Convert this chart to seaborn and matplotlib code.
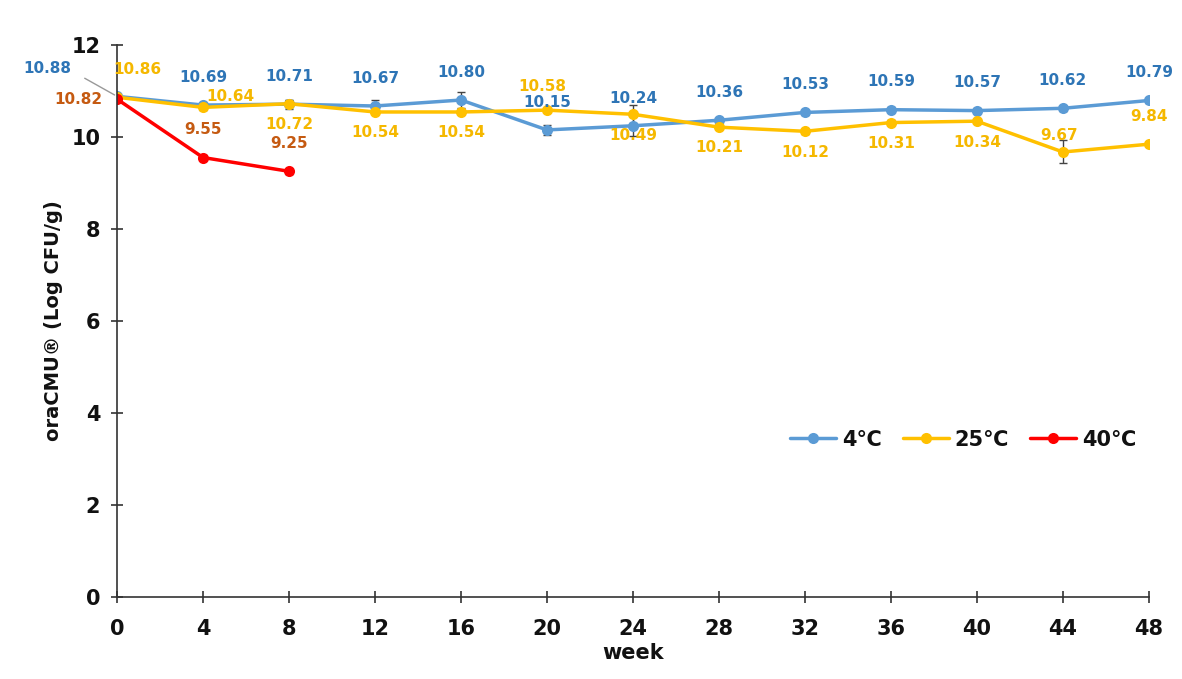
import numpy as np
import pandas as pd
import seaborn as sns
from matplotlib import pyplot as plt

weeks = [0, 4, 8, 12, 16, 20, 24, 28, 32, 36, 40, 44, 48]
cfu_4c = [10.88, 10.69, 10.71, 10.67, 10.80, 10.15, 10.24, 10.36, 10.53, 10.59, 10.57, 10.62, 10.79]
cfu_25c = [10.86, 10.64, 10.72, 10.54, 10.54, 10.58, 10.49, 10.21, 10.12, 10.31, 10.34, 9.67, 9.84]
weeks_40c = [0, 4, 8]
cfu_40c = [10.82, 9.55, 9.25]
err_4c = [0.05, 0.05, 0.10, 0.12, 0.18, 0.10, 0.22, 0.05, 0.05, 0.05, 0.05, 0.05, 0.05]
err_25c = [0.05, 0.05, 0.08, 0.05, 0.05, 0.05, 0.20, 0.05, 0.05, 0.05, 0.05, 0.25, 0.05]
err_40c = [0.05, 0.05, 0.05]

df = pd.concat([
    pd.DataFrame({'week': weeks, 'value': cfu_4c, 'temp': '4℃'}),
    pd.DataFrame({'week': weeks, 'value': cfu_25c, 'temp': '25℃'}),
    pd.DataFrame({'week': weeks_40c, 'value': cfu_40c, 'temp': '40℃'}),
])

colors = {'4℃': '#5B9BD5', '25℃': '#FFC000', '40℃': '#FF0000'}
text_colors = {'4℃': '#2E75B6', '25℃': '#F5B800', '40℃': '#C55A11'}

sns.set_style('white')
plt.rcParams['font.family'] = ['DejaVu Sans']

fig = plt.figure(figsize=(11.82, 6.79), dpi=100)
ax = fig.add_axes([0.099, 0.121, 0.873, 0.813])

# error bars first so the lines sit on top
for x, y, e in [(weeks, cfu_4c, err_4c), (weeks, cfu_25c, err_25c), (weeks_40c, cfu_40c, err_40c)]:
    ax.errorbar(x, y, yerr=e, fmt='none', ecolor='#444444', elinewidth=1, capsize=3, zorder=1)

sns.lineplot(data=df, x='week', y='value', hue='temp', palette=colors,
             marker='o', markersize=8, markeredgewidth=0, linewidth=2.5,
             ax=ax, legend=True, zorder=2)

# value labels (offsets in points)
def label(xs, ys, temp, dy, overrides={}):
    for i, (x, y) in enumerate(zip(xs, ys)):
        dx, ddy = overrides.get(i, (0, dy))
        ax.annotate('%.2f' % y, (x, y), xytext=(dx, ddy), textcoords='offset points',
                    ha='center', va='center', fontsize=11, fontweight='bold',
                    color=text_colors[temp])

label(weeks, cfu_4c, '4℃', 20, {0: (-50, 20)})
label(weeks, cfu_25c, '25℃', -15, {0: (15, 20), 1: (20, 8), 5: (-3, 17), 11: (-3, 12), 12: (0, 20)})
label(weeks_40c, cfu_40c, '40℃', 20, {0: (-28, 0)})
ax.annotate('', xy=(weeks[0], cfu_4c[0]), xytext=(-25, 14), textcoords='offset points',
            arrowprops=dict(arrowstyle='-', color='#999999', lw=1))

ax.set_xlim(0, 48)
ax.set_ylim(0, 12)
ax.set_xticks(weeks)
ax.set_yticks(range(0, 13, 2))
for t in ax.get_xticklabels() + ax.get_yticklabels():
    t.set_fontweight('bold')
ax.tick_params(axis='both', labelsize=15, direction='inout', length=8, width=1.2,
               color='#333333', labelcolor='#111111', bottom=True, left=True)
ax.tick_params(axis='x', pad=12)
ax.tick_params(axis='y', pad=8)
ax.set_xlabel('week', fontsize=15, fontweight='bold', labelpad=3, color='#111111')
ax.set_ylabel('oraCMU® (Log CFU/g)', fontsize=14, fontweight='bold', labelpad=6, color='#111111')
sns.despine(ax=ax)
for s in ['left', 'bottom']:
    ax.spines[s].set_color('#333333')
    ax.spines[s].set_linewidth(1.2)

handles, labels = ax.get_legend_handles_labels()
leg = ax.legend(handles, labels, loc='center', bbox_to_anchor=(0.82, 0.285), ncol=3, frameon=False,
                prop={'size': 15, 'weight': 'bold'}, handlelength=2.2, columnspacing=1.0,
                handletextpad=0.3)
for t in leg.get_texts():
    t.set_color('#111111')

fig.savefig('out.png', dpi=100)
